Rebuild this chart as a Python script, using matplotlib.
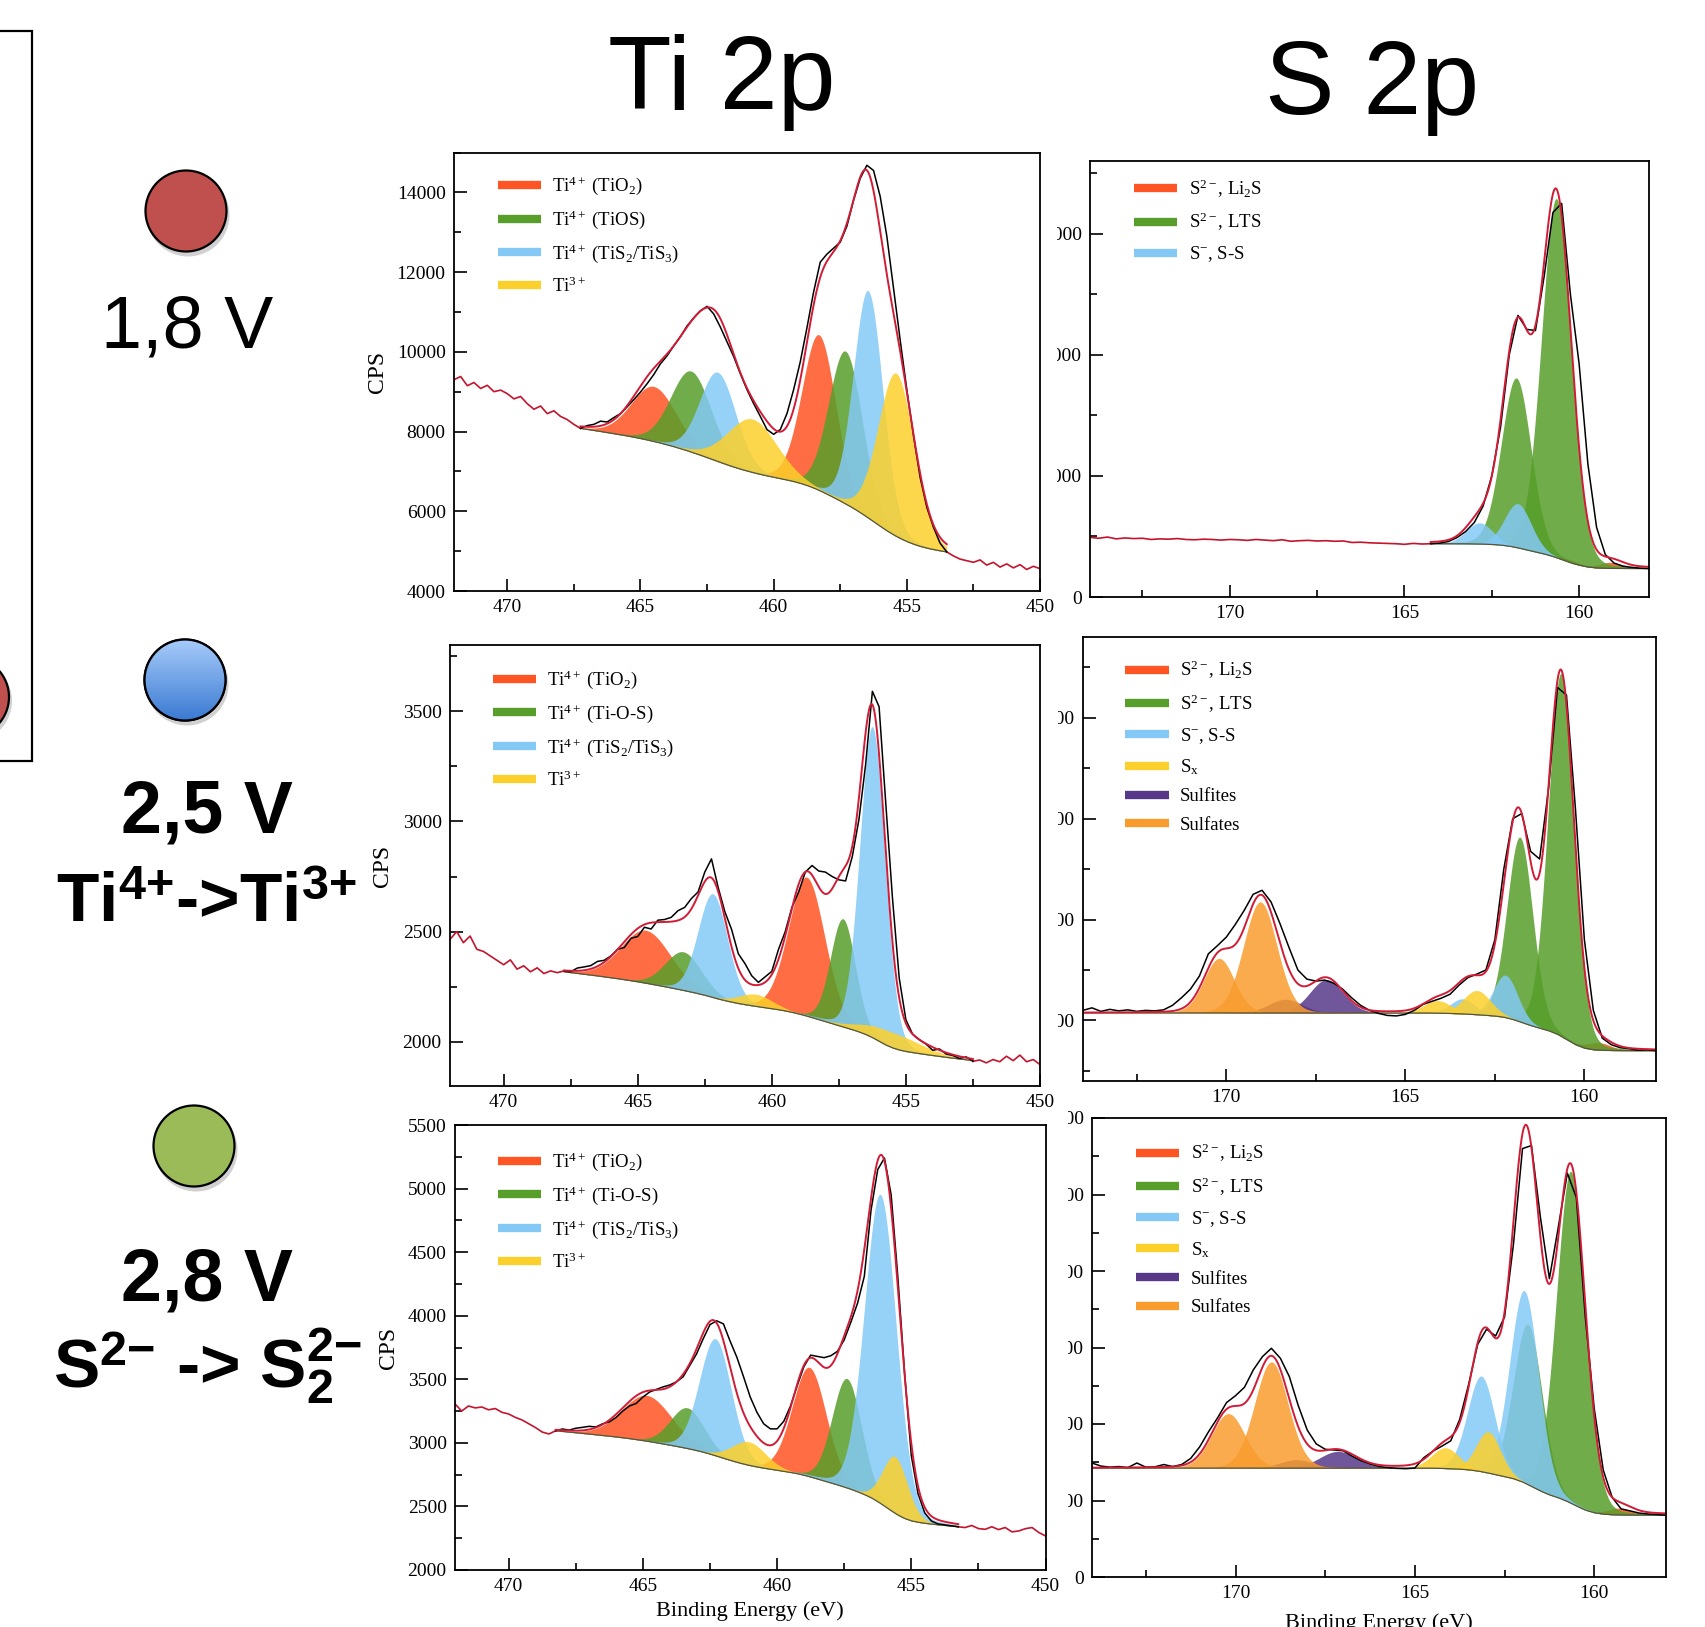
import numpy as np
import matplotlib.pyplot as plt
from matplotlib.patches import Circle, Rectangle
from matplotlib.lines import Line2D
from matplotlib.ticker import MultipleLocator
from matplotlib.colors import LinearSegmentedColormap

plt.rcParams['font.family'] = 'Liberation Serif'
plt.rcParams['mathtext.fontset'] = 'custom'
plt.rcParams['mathtext.rm'] = 'Liberation Serif'
plt.rcParams['mathtext.it'] = 'Liberation Serif:italic'
plt.rcParams['mathtext.bf'] = 'Liberation Sans:bold'

W, H = 1706, 1627

# ---------------- data ----------------
ti_be = np.round(np.arange(472.0, 449.99, -0.25), 2)   # 89 points
s_be = np.round(np.arange(174.0, 157.99, -0.25), 2)    # 65 points

ti_labels_top = [r'Ti$^{4+}$ (TiO$_2$)', r'Ti$^{4+}$ (TiOS)', r'Ti$^{4+}$ (TiS$_2$/TiS$_3$)', r'Ti$^{3+}$']
ti_labels = [r'Ti$^{4+}$ (TiO$_2$)', r'Ti$^{4+}$ (Ti-O-S)', r'Ti$^{4+}$ (TiS$_2$/TiS$_3$)', r'Ti$^{3+}$']
s_labels_top = [r'S$^{2-}$, Li$_2$S', r'S$^{2-}$, LTS', r'S$^{-}$, S-S']
s_labels = s_labels_top + [r'S$_\mathrm{x}$', 'Sulfites', 'Sulfates']
comp_colors = ['#ff5424', '#579e2a', '#84c9f6', '#fcd02c', '#573889', '#f99c2e']

# Ti 2p, 1.8 V
ti18_cps = [9300, 9380, 9150, 9230, 9080, 9160, 9000, 9040,
            8950, 8820, 8880, 8700, 8560, 8640, 8450, 8520,
            8380, 8300, 8180, 8080, 8150, 8180, 8260, 8240,
            8350, 8450, 8620, 8800, 8990, 9200, 9430, 9700,
            9900, 10150, 10380, 10650, 10850, 11030, 11140, 10950,
            10620, 10250, 9880, 9450, 9050, 8700, 8380, 8050,
            7930, 8050, 8450, 9050, 9750, 10600, 11500, 12250,
            12450, 12600, 12750, 13150, 13800, 14350, 14680, 14550,
            13900, 12900, 11600, 10300, 9050, 7900, 6850, 6100,
            5600, 5200, 4980, 4880, 4800, 4760, 4720, 4780,
            4650, 4720, 4600, 4680, 4580, 4660, 4540, 4620,
            4560]
ti18_fit = (467.25, 453.5)
ti18_bg = (8080, 4980)
ti18_shirley = 0.55
ti18_center = [464.5, 458.3, 463.1, 457.3, 462.1, 456.45, 460.8, 455.4]
ti18_height = [1380, 3900, 2030, 3830, 2240, 5700, 1340, 4090]
ti18_fwhm = [2.0, 1.5, 1.8, 1.5, 1.6, 1.3, 2.2, 1.6]
ti18_kind = [0, 0, 1, 1, 2, 2, 3, 3]

# Ti 2p, 2.5 V
ti25_cps = [2465, 2500, 2450, 2480, 2420, 2410, 2390, 2370,
            2350, 2372, 2330, 2345, 2318, 2336, 2310, 2322,
            2314, 2322, 2318, 2335, 2340, 2346, 2365, 2370,
            2390, 2420, 2428, 2470, 2478, 2520, 2512, 2552,
            2555, 2565, 2595, 2610, 2650, 2680, 2770, 2830,
            2700, 2590, 2510, 2400, 2355, 2300, 2270, 2295,
            2320, 2420, 2500, 2610, 2680, 2770, 2800, 2775,
            2770, 2750, 2735, 2730, 2840, 3010, 3260, 3590,
            3520, 3080, 2650, 2290, 2100, 2035, 2010, 1990,
            1962, 1968, 1945, 1938, 1925, 1932, 1912, 1918,
            1905, 1920, 1910, 1935, 1915, 1940, 1910, 1920,
            1897]
ti25_fit = (467.75, 452.5)
ti25_bg = (2318, 1915)
ti25_shirley = 0.45
ti25_center = [464.7, 458.7, 463.3, 457.35, 462.2, 456.25, 460.6, 455.5]
ti25_height = [240, 630, 175, 490, 470, 1410, 55, 70]
ti25_fwhm = [2.2, 1.6, 1.6, 1.1, 1.3, 1.1, 1.5, 2.5]
ti25_kind = [0, 0, 1, 1, 2, 2, 3, 3]

# Ti 2p, 2.8 V
ti28_cps = [3306, 3250, 3290, 3275, 3282, 3260, 3270, 3240,
            3227, 3200, 3180, 3150, 3120, 3085, 3070, 3095,
            3109, 3100, 3115, 3122, 3130, 3125, 3150, 3165,
            3200, 3250, 3290, 3310, 3360, 3400, 3420, 3440,
            3455, 3480, 3520, 3610, 3700, 3820, 3930, 3960,
            3936, 3800, 3674, 3520, 3360, 3240, 3150, 3110,
            3110, 3170, 3290, 3450, 3600, 3690, 3680, 3670,
            3685, 3720, 3810, 3950, 4100, 4310, 4830, 5150,
            5240, 4950, 4300, 3550, 2900, 2600, 2450, 2385,
            2362, 2355, 2347, 2340, 2334, 2350, 2326, 2320,
            2340, 2318, 2334, 2300, 2307, 2325, 2334, 2295,
            2268]
ti28_fit = (468.25, 453.25)
ti28_bg = (3095, 2340)
ti28_shirley = 0.6
ti28_center = [464.85, 458.8, 463.35, 457.4, 462.3, 456.15, 461.05, 455.6]
ti28_height = [360, 860, 320, 860, 920, 2430, 185, 445]
ti28_fwhm = [2.2, 1.5, 1.5, 1.3, 1.4, 1.4, 1.5, 1.1]
ti28_kind = [0, 0, 1, 1, 2, 2, 3, 3]

# S 2p, 1.8 V
s18_cps = [985, 970, 990, 960, 975, 965, 970, 950,
           960, 955, 965, 950, 945, 955, 950, 940,
           950, 945, 935, 950, 940, 930, 945, 920,
           930, 935, 925, 930, 920, 925, 900, 905,
           895, 890, 885, 880, 870, 885, 875, 880,
           890, 915, 980, 1080, 1230, 1500, 2000, 2800,
           4000, 4650, 4420, 4400, 5300, 6350, 6500, 5000,
           3850, 2200, 1150, 700, 560, 510, 490, 475,
           470]
s18_fit = (164.25, 158.0)
s18_bg = (880, 470)
s18_shirley = 1.0
s18_center = [159.1, 160.3, 160.65, 161.8, 161.75, 162.85]
s18_height = [100, 50, 5930, 2800, 730, 350]
s18_fwhm = [0.8, 0.8, 1.0, 1.0, 0.9, 0.9]
s18_kind = [0, 0, 1, 1, 2, 2]

# S 2p, 2.5 V
s25_cps = [1420, 1425, 1418, 1422, 1419, 1421, 1418, 1420,
           1419, 1421, 1430, 1445, 1462, 1488, 1532, 1548,
           1565, 1590, 1618, 1650, 1658, 1635, 1592, 1545,
           1500, 1482, 1478, 1480, 1474, 1462, 1445, 1430,
           1420, 1414, 1410, 1409, 1412, 1420, 1432, 1438,
           1444, 1452, 1470, 1485, 1492, 1500, 1560, 1700,
           1800, 1810, 1735, 1720, 1860, 2060, 2045, 1820,
           1560, 1420, 1365, 1352, 1346, 1344, 1341, 1342,
           1340]
s25_fit = (174.0, 158.0)
s25_bg = (1415, 1340)
s25_shirley = 1.0
s25_center = [159.6, 160.65, 161.8, 163.4, 162.2, 164.1, 163.0, 167.2, 168.35, 170.2, 169.05]
s25_height = [15, 719, 366, 30, 84, 25, 48, 66, 27, 108, 220]
s25_fwhm = [0.8, 0.85, 0.85, 0.8, 0.8, 0.9, 0.9, 1.1, 1.1, 1.0, 1.1]
s25_kind = [0, 1, 1, 2, 2, 3, 3, 4, 4, 5, 5]

# S 2p, 2.8 V
s28_cps = [745, 725, 718, 722, 715, 745, 718, 720,
           735, 722, 735, 775, 850, 950, 1040, 1140,
           1185, 1240, 1355, 1440, 1495, 1430, 1310, 1120,
           960, 870, 835, 830, 825, 790, 760, 738,
           722, 715, 710, 708, 712, 780, 822, 855,
           890, 1030, 1260, 1520, 1620, 1575, 1700, 2180,
           2800, 2820, 2350, 1950, 2290, 2640, 2480, 1700,
           1100, 700, 520, 445, 432, 418, 412, 408,
           404]
s28_fit = (174.0, 158.0)
s28_bg = (712, 404)
s28_shirley = 1.0
s28_center = [159.3, 160.65, 161.85, 163.15, 161.95, 164.15, 162.95, 167.15, 168.3, 170.2, 169.0]
s28_height = [45, 2169, 1048, 625, 1256, 136, 270, 109, 55, 356, 694]
s28_fwhm = [0.8, 0.95, 0.95, 0.9, 0.95, 0.9, 0.8, 1.2, 1.1, 1.1, 1.1]
s28_kind = [0, 1, 1, 2, 2, 3, 3, 4, 4, 5, 5]

ENV_RED = '#d01c36'
TAIL_RED = '#c4142e'


def gl(x, c, h, w, m=0.1):
    t = (x - c) / w
    return h * ((1 - m) * np.exp(-4 * np.log(2) * t ** 2) + m / (1 + 4 * t ** 2))


def background(e, y, y_hi, y_lo, weight, n=10):
    # iterative Shirley (energies descending), blended with a linear step
    b = np.full(len(y), float(y_lo))
    for _ in range(n):
        d = np.clip(y - b, 0, None)
        cum = np.cumsum(d[::-1])[::-1]
        b = y_lo + (y_hi - y_lo) * cum / cum[0]
    lin = (e - e[-1]) / (e[0] - e[-1])
    frac = weight * (b - y_lo) / (y_hi - y_lo) + (1 - weight) * lin
    return y_lo + (y_hi - y_lo) * frac


def draw_spectrum(ax, be, cps, fit, bg_ends, weight, centers, heights, fwhms, kinds, bg_cut=None):
    be = np.asarray(be, dtype=float)
    cps = np.asarray(cps, dtype=float)
    x = np.arange(fit[0], fit[1] - 1e-6, -0.01)
    peaks = [gl(x, c, h, w) for c, h, w in zip(centers, heights, fwhms)]
    hi = fit[0] if bg_cut is None else min(fit[0], bg_cut)
    sel = (be <= hi + 1e-6) & (be >= fit[1] - 1e-6)
    b = background(be[sel], cps[sel], bg_ends[0], bg_ends[1], weight)
    bg = np.interp(x, be[sel][::-1], b[::-1])
    for p, k in zip(peaks, kinds):
        ax.fill_between(x, bg, bg + p, color=comp_colors[k], alpha=0.85, lw=0)
    ax.plot(x, bg, color='#55553a', lw=0.9)
    left = be >= fit[0] - 1e-6
    right = be <= fit[1] + 1e-6
    inside = (be <= fit[0] + 1e-6) & (be >= fit[1] - 1e-6)
    if left.sum() > 1:
        ax.plot(be[left], cps[left], color=TAIL_RED, lw=1.2)
    if right.sum() > 1:
        ax.plot(be[right], cps[right], color=TAIL_RED, lw=1.2)
    ax.plot(be[inside], cps[inside], color='black', lw=1.1)
    ax.plot(x, bg + sum(peaks), color=ENV_RED, lw=1.4)


def style_axes(ax, xlim, ylim, ymajor, yminor):
    ax.set_xlim(*xlim)
    ax.set_ylim(*ylim)
    ax.xaxis.set_major_locator(MultipleLocator(5))
    ax.xaxis.set_minor_locator(MultipleLocator(2.5))
    ax.yaxis.set_major_locator(MultipleLocator(ymajor))
    ax.yaxis.set_minor_locator(MultipleLocator(yminor))
    ax.tick_params(which='both', direction='in', labelsize=14, width=1.2,
                   top=False, right=False)
    ax.tick_params(which='major', length=9, pad=6)
    ax.tick_params(which='minor', length=5)
    for sp in ax.spines.values():
        sp.set_linewidth(1.3)


def add_legend(ax, labels, anchor):
    handles = [Line2D([], [], color=comp_colors[i], lw=6, solid_capstyle='butt')
               for i in range(len(labels))]
    ax.legend(handles, labels, loc='upper left', bbox_to_anchor=anchor, frameon=False,
              fontsize=13.5, handlelength=2.3, handletextpad=0.6, labelspacing=0.6,
              borderpad=0, borderaxespad=0)


fig = plt.figure(figsize=(W / 100, H / 100), dpi=100)


def px_axes(l, t, r, b, z):
    return fig.add_axes([l / W, 1 - b / H, (r - l) / W, (b - t) / H], zorder=z)


# background layer: circles, labels, titles
bg_ax = fig.add_axes([0, 0, 1, 1], zorder=-1)
bg_ax.set_autoscale_on(False)
bg_ax.set_xlim(0, W)
bg_ax.set_ylim(H, 0)
bg_ax.axis('off')

bg_ax.add_patch(Rectangle((-10, 31), 42, 730, fill=False, lw=1.6, ec='black'))


def dot(cx, cy, r, color):
    bg_ax.add_patch(Circle((cx + 2, cy + 4), r + 1, fc='black', alpha=0.18, lw=0))
    c = Circle((cx, cy), r, fc=color, ec='black', lw=1.6)
    bg_ax.add_patch(c)
    return c


dot(-31, 697, 40, '#c0504d')
dot(186, 211, 40.5, '#c0504d')
dot(194, 1146, 40.5, '#9bbb59')
blue = dot(185, 680, 40.5, 'none')
grad = np.linspace(0, 1, 100)[:, None]
cmap = LinearSegmentedColormap.from_list('bl', ['#a6cafa', '#3b7bd2'])
im = bg_ax.imshow(grad, extent=(145, 225, 720, 640), cmap=cmap, aspect='auto', zorder=1.5)
im.set_clip_path(blue)
bg_ax.add_patch(Circle((185, 680), 40.5, fill=False, ec='black', lw=1.6, zorder=2))

bg_ax.text(722, 109, 'Ti 2p', ha='center', va='baseline', fontsize=75, family='Liberation Sans')
bg_ax.text(1372, 114, 'S 2p', ha='center', va='baseline', fontsize=75, family='Liberation Sans')
bg_ax.text(187, 347, '1,8 V', ha='center', va='baseline', fontsize=53, family='Liberation Sans')
bg_ax.text(207, 832, '2,5 V', ha='center', va='baseline', fontsize=53,
           family='Liberation Sans', weight='bold')
bg_ax.text(206, 922, r'Ti$^{\mathbf{4{+}}}$->Ti$^{\mathbf{3{+}}}$', ha='center', va='baseline',
           fontsize=50, family='Liberation Sans', weight='bold')
bg_ax.text(207, 1301, '2,8 V', ha='center', va='baseline', fontsize=53,
           family='Liberation Sans', weight='bold')
bg_ax.text(207, 1388, r'S$^{\mathbf{2{-}}}$ -> S$_{\mathbf{2}}^{\mathbf{2{-}}}$', ha='center',
           va='baseline', fontsize=50, family='Liberation Sans', weight='bold')

# S 2p panels (drawn under the Ti panels)
ax_s1 = px_axes(1090, 161, 1649, 597, 0)
draw_spectrum(ax_s1, s_be, s18_cps, s18_fit, s18_bg, s18_shirley,
              s18_center, s18_height, s18_fwhm, s18_kind)
style_axes(ax_s1, (174, 158), (0, 7200), 2000, 1000)
add_legend(ax_s1, s_labels_top, (0.079, 0.962))

ax_s2 = px_axes(1083, 637, 1656, 1081, 0)
draw_spectrum(ax_s2, s_be, s25_cps, s25_fit, s25_bg, s25_shirley,
              s25_center, s25_height, s25_fwhm, s25_kind, bg_cut=165.5)
style_axes(ax_s2, (174, 158), (1280, 2160), 200, 100)
add_legend(ax_s2, s_labels, (0.074, 0.95))

ax_s3 = px_axes(1092, 1118, 1666, 1577, 0)
draw_spectrum(ax_s3, s_be, s28_cps, s28_fit, s28_bg, s28_shirley,
              s28_center, s28_height, s28_fwhm, s28_kind, bg_cut=165.5)
style_axes(ax_s3, (174, 158), (0, 3000), 500, 250)
add_legend(ax_s3, s_labels, (0.077, 0.948))
ax_s3.set_xlabel('Binding Energy (eV)', fontsize=16, labelpad=8)

# white strips hiding the left part of the S tick labels
cover = fig.add_axes([0, 0, 1, 1], zorder=1)
cover.set_xlim(0, W)
cover.set_ylim(H, 0)
cover.axis('off')
cover.add_patch(Rectangle((1040, 140), 17, 470, fc='white', lw=0))
cover.add_patch(Rectangle((1040, 625), 18, 470, fc='white', lw=0))
cover.add_patch(Rectangle((1045, 1105), 23, 485, fc='white', lw=0))

# Ti 2p panels
ax_t1 = px_axes(454, 152.5, 1040, 591, 2)
draw_spectrum(ax_t1, ti_be, ti18_cps, ti18_fit, ti18_bg, ti18_shirley,
              ti18_center, ti18_height, ti18_fwhm, ti18_kind)
style_axes(ax_t1, (472, 450), (4000, 15000), 2000, 1000)
add_legend(ax_t1, ti_labels_top, (0.075, 0.949))
ax_t1.set_ylabel('CPS', fontsize=17, labelpad=6)

ax_t2 = px_axes(450, 645, 1040, 1086, 2)
draw_spectrum(ax_t2, ti_be, ti25_cps, ti25_fit, ti25_bg, ti25_shirley,
              ti25_center, ti25_height, ti25_fwhm, ti25_kind)
style_axes(ax_t2, (472, 450), (1800, 3800), 500, 250)
add_legend(ax_t2, ti_labels, (0.073, 0.946))
ax_t2.set_ylabel('CPS', fontsize=17, labelpad=7)

ax_t3 = px_axes(455, 1125, 1045.5, 1570, 2)
draw_spectrum(ax_t3, ti_be, ti28_cps, ti28_fit, ti28_bg, ti28_shirley,
              ti28_center, ti28_height, ti28_fwhm, ti28_kind)
style_axes(ax_t3, (472, 450), (2000, 5500), 500, 250)
add_legend(ax_t3, ti_labels, (0.073, 0.942))
ax_t3.set_ylabel('CPS', fontsize=17, labelpad=6)
ax_t3.set_xlabel('Binding Energy (eV)', fontsize=16, labelpad=4)

fig.savefig('out.png', dpi=100)
